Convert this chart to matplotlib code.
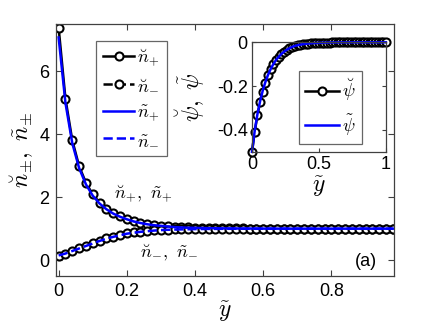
import matplotlib
matplotlib.use("Agg")
import matplotlib.pyplot as plt
import numpy as np

plt.rcParams['font.family'] = ['Liberation Sans', 'DejaVu Sans']
plt.rcParams['mathtext.fontset'] = 'cm'
plt.rcParams['axes.unicode_minus'] = False

# ---- data ----
y_main = [round(0.02 * k, 2) for k in range(50)]
n_plus_breve = [7.39, 5.13, 3.81, 2.99, 2.46, 2.09, 1.83, 1.64, 1.50, 1.39,
                1.31, 1.24, 1.19, 1.15, 1.12, 1.09, 1.07, 1.06, 1.05, 1.04,
                1.03, 1.023, 1.018, 1.015, 1.012, 1.009, 1.007, 1.006, 1.005, 1.004,
                1.003, 1.002, 1.002, 1.001, 1.001, 1.0, 1.0, 1.0, 1.0, 1.0,
                1.0, 1.0, 1.0, 1.0, 1.0, 1.0, 1.0, 1.0, 1.0, 1.0]
n_minus_breve = [0.14, 0.21, 0.30, 0.38, 0.46, 0.54, 0.62, 0.69, 0.75, 0.80,
                 0.85, 0.88, 0.91, 0.93, 0.95, 0.96, 0.97, 0.975, 0.98, 0.985,
                 0.99, 0.99, 0.993, 0.995, 0.996, 0.997, 0.998, 0.998, 0.999, 0.999,
                 1.0, 1.0, 1.0, 1.0, 1.0, 1.0, 1.0, 1.0, 1.0, 1.0,
                 1.0, 1.0, 1.0, 1.0, 1.0, 1.0, 1.0, 1.0, 1.0, 1.0]
n_plus_tilde = [7.08, 5.00, 3.72, 2.93, 2.41, 2.05, 1.80, 1.62, 1.48, 1.38,
                1.30, 1.23, 1.18, 1.14, 1.11, 1.09, 1.07, 1.05, 1.04, 1.03,
                1.025, 1.02, 1.016, 1.013, 1.01, 1.008, 1.006, 1.005, 1.004, 1.003,
                1.002, 1.002, 1.001, 1.001, 1.0, 1.0, 1.0, 1.0, 1.0, 1.0,
                1.0, 1.0, 1.0, 1.0, 1.0, 1.0, 1.0, 1.0, 1.0, 1.0]
n_minus_tilde = [0.15, 0.21, 0.29, 0.37, 0.45, 0.53, 0.61, 0.68, 0.74, 0.79,
                 0.84, 0.87, 0.90, 0.92, 0.94, 0.955, 0.965, 0.972, 0.978, 0.983,
                 0.987, 0.99, 0.992, 0.994, 0.996, 0.997, 0.998, 0.998, 0.999, 0.999,
                 1.0, 1.0, 1.0, 1.0, 1.0, 1.0, 1.0, 1.0, 1.0, 1.0,
                 1.0, 1.0, 1.0, 1.0, 1.0, 1.0, 1.0, 1.0, 1.0, 1.0]

y_inset = [round(0.02 * k, 2) for k in range(51)]
psi_breve = [-0.500, -0.409, -0.334, -0.274, -0.225, -0.184, -0.151, -0.124, -0.101, -0.082,
             -0.0675, -0.054, -0.0435, -0.035, -0.028, -0.0215, -0.017, -0.0138, -0.011, -0.0088,
             -0.0071, -0.0057, -0.0045, -0.0036, -0.0029, -0.0023, -0.0018, -0.0015, -0.0012, -0.001,
             -0.0008, -0.0006, -0.0005, -0.0004, -0.0003, -0.0002, -0.0002, -0.0001, -0.0001, 0.0,
             0.0, 0.0, 0.0, 0.0, 0.0, 0.0, 0.0, 0.0, 0.0, 0.0, 0.0]
psi_tilde = [-0.500, -0.405, -0.330, -0.270, -0.221, -0.181, -0.148, -0.121, -0.099, -0.080,
             -0.066, -0.053, -0.0425, -0.034, -0.027, -0.021, -0.0165, -0.0134, -0.0107, -0.0085,
             -0.0069, -0.0055, -0.0044, -0.0035, -0.0028, -0.0022, -0.0018, -0.0014, -0.0011, -0.0009,
             -0.0007, -0.0006, -0.0005, -0.0004, -0.0003, -0.0002, -0.0002, -0.0001, -0.0001, 0.0,
             0.0, 0.0, 0.0, 0.0, 0.0, 0.0, 0.0, 0.0, 0.0, 0.0, 0.0]

main_xticks = [0, 0.2, 0.4, 0.6, 0.8]
main_yticks = [0, 2, 4, 6]
inset_xticks = [0, 0.5, 1]
inset_yticks = [-0.4, -0.2, 0]

spine_col = '#404040'
fig = plt.figure(figsize=(4.36, 3.28), dpi=100)
ax = fig.add_axes([0.129, 0.159, 0.775, 0.767])

mk = dict(marker='o', markersize=5.8, markerfacecolor='white', markeredgecolor='black', markeredgewidth=1.5)
l1, = ax.plot(y_main, n_plus_breve, color='black', lw=1.8, ls='-', **mk, label=r'$\breve{n}_{+}$')
l2, = ax.plot(y_main, n_minus_breve, color='black', lw=1.8, ls='--', **mk, label=r'$\breve{n}_{-}$')
l3, = ax.plot(y_main, n_plus_tilde, color='#0000ff', lw=1.8, ls='-', label=r'$\tilde{n}_{+}$')
l4, = ax.plot(y_main, n_minus_tilde, color='#0000ff', lw=1.8, ls='--', label=r'$\tilde{n}_{-}$')

ax.set_xlim(-0.007, 0.984)
ax.set_ylim(-0.5, 7.5)
ax.set_xticks(main_xticks)
ax.set_xticklabels(['0', '0.2', '0.4', '0.6', '0.8'])
ax.set_yticks(main_yticks)
ax.tick_params(direction='in', top=True, right=True, labelsize=13, length=4, width=0.8,
               color=spine_col, pad=5)
for s in ax.spines.values():
    s.set_color(spine_col)
    s.set_linewidth(0.9)
ax.set_xlabel(r'$\tilde{y}$', fontsize=17, labelpad=0)
ax.set_ylabel(r'$\breve{n}_{\pm},\ \tilde{n}_{\pm}$', fontsize=17, labelpad=2)

leg = ax.legend(handles=[l1, l2, l3, l4], loc='upper left', bbox_to_anchor=(0.118, 0.935),
                fontsize=13, frameon=True, fancybox=False, handlelength=1.7,
                handletextpad=0.15, borderpad=0.4, labelspacing=0.5, borderaxespad=0)
leg.get_frame().set_edgecolor(spine_col)
leg.get_frame().set_linewidth(0.9)

ax.text(0.249, 2.12, r'$\breve{n}_{+},\ \tilde{n}_{+}$', fontsize=13, ha='center', va='center')
ax.text(0.323, 0.22, r'$\breve{n}_{-},\ \tilde{n}_{-}$', fontsize=13, ha='center', va='center')
ax.text(0.90, -0.03, '(a)', fontsize=13, ha='center', va='center')

# ---- inset ----
axi = fig.add_axes([0.578, 0.537, 0.307, 0.334])
mk2 = dict(marker='o', markersize=5.8, markerfacecolor='white', markeredgecolor='black', markeredgewidth=1.5)
p1, = axi.plot(y_inset, psi_breve, color='black', lw=1.8, **mk2, label=r'$\breve{\psi}$')
p2, = axi.plot(y_inset, psi_tilde, color='#0000ff', lw=1.8, label=r'$\tilde{\psi}$')
axi.set_xlim(0, 1)
axi.set_ylim(-0.5, 0)
axi.set_xticks(inset_xticks)
axi.set_xticklabels(['0', '0.5', '1'])
axi.set_yticks(inset_yticks)
axi.set_yticklabels(['-0.4', '-0.2', '0'])
axi.tick_params(direction='in', top=True, right=True, labelsize=13, length=3, width=0.8,
                color=spine_col, pad=3)
for s in axi.spines.values():
    s.set_color(spine_col)
    s.set_linewidth(0.9)
axi.set_xlabel(r'$\tilde{y}$', fontsize=17, labelpad=1)
axi.set_ylabel(r'$\breve{\psi},\ \tilde{\psi}$', fontsize=17, labelpad=7)
legi = axi.legend(handles=[p1, p2], loc='upper left', bbox_to_anchor=(0.35, 0.74),
                  fontsize=13, frameon=True, fancybox=False, handlelength=1.9,
                  handletextpad=0.15, borderpad=0.35, labelspacing=0.5, borderaxespad=0)
legi.get_frame().set_edgecolor(spine_col)
legi.get_frame().set_linewidth(0.9)
for p in (p1, p2):
    p.set_clip_on(False)

fig.savefig('out.png', dpi=100)
